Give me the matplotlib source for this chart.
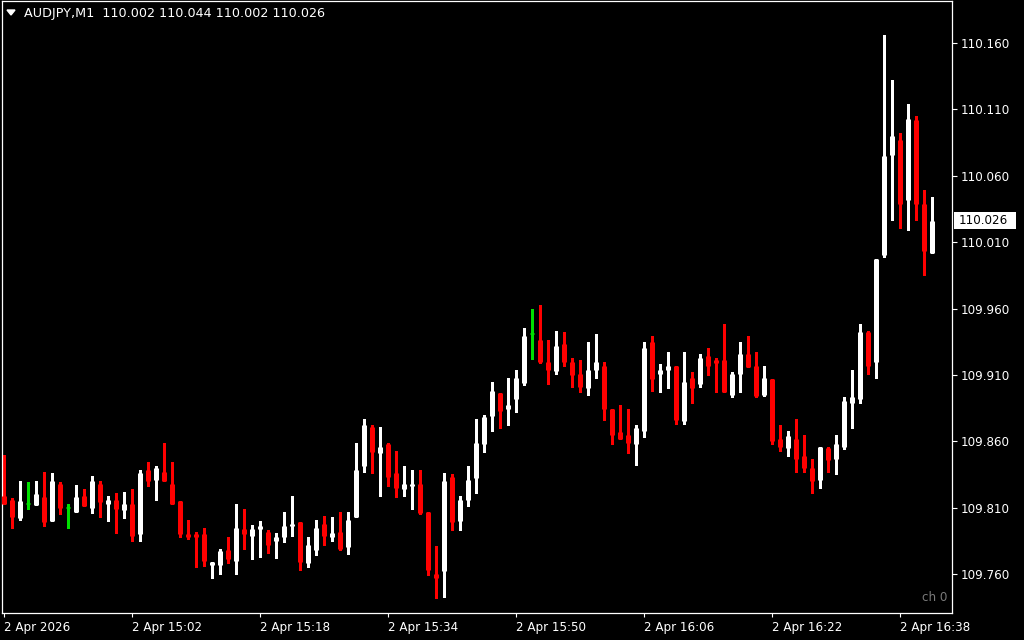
import matplotlib
matplotlib.use("Agg")
import matplotlib.pyplot as plt
import numpy as np

# AUDJPY M1 candles, 14:46 .. 16:42 (one per minute)
opens = [109.819, 109.816, 109.802, 109.813, 109.812, 109.818, 109.800, 109.828, 109.810, 109.807,
         109.819, 109.810, 109.828, 109.813, 109.816, 109.808, 109.813, 109.790, 109.838, 109.831,
         109.837, 109.828, 109.815, 109.790, 109.790, 109.790, 109.767, 109.767, 109.778, 109.770,
         109.794, 109.789, 109.794, 109.792, 109.785, 109.788, 109.796, 109.799, 109.768, 109.778,
         109.798, 109.788, 109.792, 109.780, 109.803, 109.841, 109.871, 109.851, 109.858, 109.836,
         109.824, 109.826, 109.828, 109.807, 109.760, 109.762, 109.833, 109.800, 109.816, 109.832,
         109.858, 109.879, 109.896, 109.884, 109.892, 109.904, 109.941, 109.936, 109.920, 109.913,
         109.933, 109.920, 109.911, 109.900, 109.914, 109.917, 109.884, 109.867, 109.865, 109.858,
         109.868, 109.935, 109.911, 109.914, 109.917, 109.875, 109.908, 109.903, 109.924, 109.921,
         109.921, 109.895, 109.911, 109.926, 109.917, 109.895, 109.907, 109.862, 109.855, 109.862,
         109.849, 109.840, 109.831, 109.855, 109.847, 109.856, 109.889, 109.892, 109.942, 109.920,
         110.000, 110.076, 110.087, 110.042, 110.102, 110.039, 110.002]
highs = [109.850, 109.817, 109.830, 109.829, 109.830, 109.837, 109.836, 109.829, 109.813, 109.827,
         109.824, 109.834, 109.830, 109.819, 109.821, 109.822, 109.824, 109.838, 109.844, 109.841,
         109.859, 109.844, 109.815, 109.801, 109.792, 109.795, 109.769, 109.779, 109.788, 109.813,
         109.809, 109.797, 109.800, 109.793, 109.791, 109.807, 109.819, 109.799, 109.788, 109.801,
         109.804, 109.803, 109.807, 109.807, 109.859, 109.877, 109.872, 109.871, 109.859, 109.853,
         109.841, 109.838, 109.838, 109.807, 109.781, 109.836, 109.835, 109.819, 109.841, 109.877,
         109.880, 109.905, 109.896, 109.908, 109.914, 109.945, 109.960, 109.963, 109.936, 109.943,
         109.942, 109.923, 109.921, 109.935, 109.941, 109.920, 109.884, 109.887, 109.884, 109.872,
         109.935, 109.939, 109.918, 109.927, 109.917, 109.927, 109.912, 109.926, 109.930, 109.923,
         109.948, 109.912, 109.935, 109.939, 109.927, 109.917, 109.907, 109.872, 109.868, 109.877,
         109.865, 109.847, 109.856, 109.856, 109.865, 109.893, 109.914, 109.948, 109.943, 109.997,
         110.166, 110.132, 110.092, 110.114, 110.105, 110.049, 110.044]
lows = [109.813, 109.795, 109.801, 109.809, 109.812, 109.796, 109.800, 109.805, 109.795, 109.807,
        109.811, 109.806, 109.803, 109.800, 109.791, 109.802, 109.785, 109.785, 109.826, 109.816,
        109.830, 109.813, 109.788, 109.786, 109.765, 109.766, 109.757, 109.760, 109.768, 109.760,
        109.779, 109.771, 109.773, 109.776, 109.772, 109.784, 109.789, 109.763, 109.765, 109.774,
        109.782, 109.785, 109.778, 109.775, 109.803, 109.837, 109.836, 109.819, 109.826, 109.818,
        109.819, 109.809, 109.805, 109.759, 109.742, 109.743, 109.793, 109.793, 109.811, 109.821,
        109.852, 109.868, 109.870, 109.872, 109.882, 109.902, 109.922, 109.919, 109.903, 109.911,
        109.917, 109.901, 109.897, 109.895, 109.908, 109.876, 109.858, 109.862, 109.851, 109.842,
        109.863, 109.898, 109.897, 109.900, 109.873, 109.873, 109.889, 109.901, 109.910, 109.897,
        109.897, 109.893, 109.897, 109.916, 109.893, 109.894, 109.858, 109.853, 109.849, 109.837,
        109.837, 109.821, 109.825, 109.837, 109.835, 109.854, 109.870, 109.889, 109.911, 109.908,
        109.999, 110.027, 110.021, 110.019, 110.027, 109.985, 110.002]
closes = [109.813, 109.803, 109.815, 109.813, 109.820, 109.799, 109.830, 109.810, 109.810, 109.818,
          109.811, 109.830, 109.814, 109.816, 109.809, 109.813, 109.789, 109.836, 109.830, 109.840,
          109.830, 109.813, 109.790, 109.788, 109.788, 109.770, 109.769, 109.777, 109.771, 109.795,
          109.790, 109.794, 109.796, 109.782, 109.788, 109.796, 109.798, 109.769, 109.782, 109.795,
          109.789, 109.791, 109.779, 109.801, 109.838, 109.872, 109.852, 109.856, 109.833, 109.825,
          109.828, 109.828, 109.806, 109.763, 109.757, 109.830, 109.799, 109.816, 109.831, 109.859,
          109.878, 109.898, 109.883, 109.887, 109.908, 109.939, 109.941, 109.920, 109.914, 109.932,
          109.920, 109.910, 109.901, 109.914, 109.920, 109.884, 109.865, 109.862, 109.859, 109.870,
          109.930, 109.907, 109.914, 109.917, 109.876, 109.905, 109.900, 109.923, 109.917, 109.919,
          109.897, 109.911, 109.926, 109.916, 109.894, 109.908, 109.860, 109.856, 109.864, 109.847,
          109.840, 109.830, 109.856, 109.846, 109.858, 109.890, 109.893, 109.942, 109.917, 109.997,
          110.075, 110.090, 110.039, 110.103, 110.039, 110.003, 110.026]

price_ticks = [110.160, 110.110, 110.060, 110.010, 109.960, 109.910, 109.860, 109.810, 109.760]
time_tick_idx = [0, 16, 32, 48, 64, 80, 96, 112]
time_tick_labels = ["2 Apr 2026", "2 Apr 15:02", "2 Apr 15:18", "2 Apr 15:34",
                    "2 Apr 15:50", "2 Apr 16:06", "2 Apr 16:22", "2 Apr 16:38"]
symbol = "AUDJPY,M1"
last_price = 110.026

BULL, BEAR, DOJI = "#ffffff", "#ff0000", "#00e000"
W, H = 1024, 640

fig = plt.figure(figsize=(W / 100, H / 100), dpi=100, facecolor="black")
ax = fig.add_axes([2 / W, 27 / H, 950 / W, 612 / H], facecolor="black")

o = np.array(opens); h = np.array(highs); l = np.array(lows); c = np.array(closes)
x = np.arange(len(o))
cols = np.where(c > o, BULL, np.where(c < o, BEAR, DOJI))

px = 0.4 / 531  # price per pixel
ax.vlines(x, l, h, colors=cols, linewidth=0.75, antialiased=False, zorder=2)
# bodies as thick butt-capped lines, 5 px wide, at least 1 px tall
lo_b = np.minimum(o, c)
hi_b = np.maximum(np.maximum(o, c), lo_b + px)
ax.vlines(x, lo_b, hi_b, colors=cols, linewidth=3.6, capstyle="butt", zorder=3)

ax.set_xlim((2 - 3.5) / 8, (952 - 3.5) / 8)
ylo, yhi = 110.160 - 570 * px, 110.160 + 42 * px
ax.set_ylim(ylo, yhi)

for sp in ax.spines.values():
    sp.set_color("white")
    sp.set_linewidth(0.9)

ax.yaxis.tick_right()
ax.set_yticks(price_ticks)
ax.set_yticklabels([f"{p:.3f}" for p in price_ticks])
ax.tick_params(axis="y", colors="white", length=3.5, width=0.8, pad=3, labelsize=8.6,
               direction="out")
ax.set_xticks(time_tick_idx)
ax.set_xticklabels(time_tick_labels)
ax.tick_params(axis="x", colors="white", length=3, width=0.8, pad=3, labelsize=8.6,
               direction="out")
for lab in ax.get_xticklabels():
    lab.set_ha("left")

# current price marker on the scale
yp = 640 - (43 + (110.160 - last_price) / px)
fig.patches.append(plt.Rectangle((954 / W, (yp - 8.5) / H), 62 / W, 17 / H,
                                 transform=fig.transFigure, facecolor="white",
                                 edgecolor="none", zorder=4))
fig.text(959 / W, yp / H, f"{last_price:.3f}", ha="left", va="center",
         fontsize=8.6, color="black", zorder=5)

# header
tri = plt.Polygon([[7 / W, 1 - 10 / H], [15 / W, 1 - 10 / H], [11 / W, 1 - 15 / H]],
                  closed=True, transform=fig.transFigure, color="white")
fig.patches.append(tri)
fig.text(24 / W, 1 - 13 / H,
         f"{symbol}  {opens[-1]:.3f} {highs[-1]:.3f} {lows[-1]:.3f} {closes[-1]:.3f}",
         color="white", fontsize=9.2, ha="left", va="center")

ax.text(0.995, 0.015, "ch 0", transform=ax.transAxes, ha="right", va="bottom",
        fontsize=8.6, color="#7a7a7a")

fig.savefig("out.png", dpi=100, facecolor="black")
